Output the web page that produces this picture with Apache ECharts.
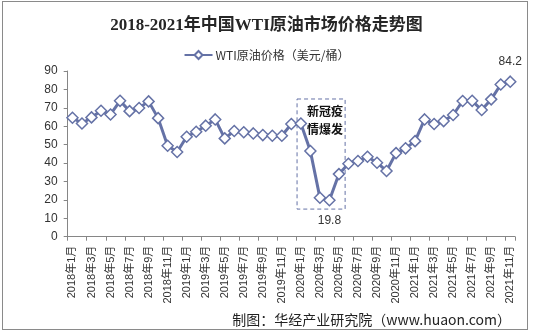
<!DOCTYPE html>
<html><head><meta charset="utf-8">
<script src="https://cdn.jsdelivr.net/npm/echarts@6/dist/echarts.min.js"></script>
<style>
html,body{margin:0;padding:0;background:#fff;}
#frame{position:absolute;left:2px;top:1px;width:526px;height:329px;border:1px solid #8a8a8a;box-sizing:border-box;}
#c{position:absolute;left:0;top:0;width:533px;height:334px;}
</style></head>
<body><div id="frame"></div><div id="c"></div>
<script>
const years = [2018, 2019, 2020, 2021];
const categories = [];
years.forEach(y => { for (let m = 1; m <= 12; m++) { if (y === 2021 && m > 11) break; categories.push(y + '年' + m + '月'); } });
const prices = [
  64.6, 61.5, 64.8, 68.4, 66.4, 73.8, 68.2, 69.9, 73.5, 64.4, 49.4, 46.0,
  54.3, 57.0, 60.3, 63.7, 53.4, 57.4, 56.7, 56.1, 55.2, 54.8, 54.8, 61.2,
  61.5, 46.5, 21.2, 19.8, 34.0, 39.6, 41.1, 43.4, 40.2, 35.7, 45.4, 48.0,
  51.9, 63.7, 61.2, 62.8, 66.1, 73.7, 73.8, 68.8, 74.6, 82.7, 84.2
];
const labelledIdx = { 27: 'bottom', 46: 'top' };
const seriesName = 'WTI原油价格（美元/桶）';
const titleText = '2018-2021年中国WTI原油市场价格走势图';
const sourceText = '制图：华经产业研究院（www.huaon.com）';
const noteText = '新冠疫\n情爆发';
const yTicks = { min: 0, max: 90, interval: 10 };

const color = '#6572a6';
const chart = echarts.init(document.getElementById('c'));
const data = prices.map((v, i) => labelledIdx[i] ? {
  value: v,
  label: { show: true, position: labelledIdx[i], distance: 8, color: '#333', fontSize: 12, fontFamily: 'Liberation Sans, Arial, sans-serif' }
} : v);

const footer = {
  type: 'text', right: 22, bottom: 7,
  style: { text: sourceText, fontSize: 14, fill: '#222', fontFamily: '"Noto Sans CJK SC",sans-serif' }
};

chart.setOption({
  animation: false,
  title: {
    text: titleText, left: 'center', top: 12,
    textStyle: { fontSize: 17, fontWeight: 'bold', color: '#262626', fontFamily: '"Liberation Serif","Noto Sans CJK SC",serif' }
  },
  legend: {
    top: 44, left: 'center', itemWidth: 28, itemHeight: 10, itemGap: 4,
    textStyle: { fontSize: 12, color: '#333', fontFamily: '"Noto Sans CJK SC",sans-serif', padding: [0,0,0,-2] },
    data: [seriesName]
  },
  grid: { left: 67.7, right: 18, top: 71, bottom: 97.3, containLabel: false },
  xAxis: {
    type: 'category', data: categories, boundaryGap: true,
    axisLine: { lineStyle: { color: '#868686', width: 1 } },
    axisTick: { show: true, interval: 1, length: 4, lineStyle: { color: '#868686' } },
    axisLabel: { interval: 1, rotate: 90, fontSize: 11, color: '#333', margin: 9, fontFamily: '"Liberation Sans","Noto Sans CJK SC",sans-serif' }
  },
  yAxis: {
    type: 'value', min: yTicks.min, max: yTicks.max, interval: yTicks.interval,
    axisLine: { show: true, lineStyle: { color: '#868686' } },
    axisTick: { show: true, length: 4, lineStyle: { color: '#868686' } },
    splitLine: { show: false },
    axisLabel: { fontSize: 12, color: '#333', margin: 10, fontFamily: '"Liberation Sans",Arial,sans-serif' }
  },
  series: [{
    name: seriesName, type: 'line', data: data,
    symbol: 'diamond', symbolSize: 11, showAllSymbol: true,
    lineStyle: { color: color, width: 3 },
    itemStyle: { color: '#fff', borderColor: color, borderWidth: 1.5 },
    emphasis: { disabled: true }
  }],
  graphic: [footer]
});

function px(i, v) { return chart.convertToPixel({ gridIndex: 0 }, [i, v]); }
function fracX(f, v) {
  const a = Math.floor(f), b = a + 1;
  const pa = px(a, v), pb = px(b, v);
  return [pa[0] + (f - a) * (pb[0] - pa[0]), pa[1]];
}
const tl = fracX(23.6, 74.8), br = fracX(28.65, 15.0);
chart.setOption({
  graphic: [footer, {
    type: 'rect', shape: { x: tl[0], y: tl[1], width: br[0] - tl[0], height: br[1] - tl[1] },
    style: { fill: 'none', stroke: color, lineWidth: 1, lineDash: [4, 3] }, z: 1
  }, {
    type: 'text', x: br[0] - 2, y: tl[1] + 3,
    style: { text: noteText, align: 'right', verticalAlign: 'top', fontSize: 12, fontWeight: 'bold', lineHeight: 18, fill: '#111', fontFamily: '"Noto Sans CJK SC",sans-serif' }
  }]
});
</script></body></html>
